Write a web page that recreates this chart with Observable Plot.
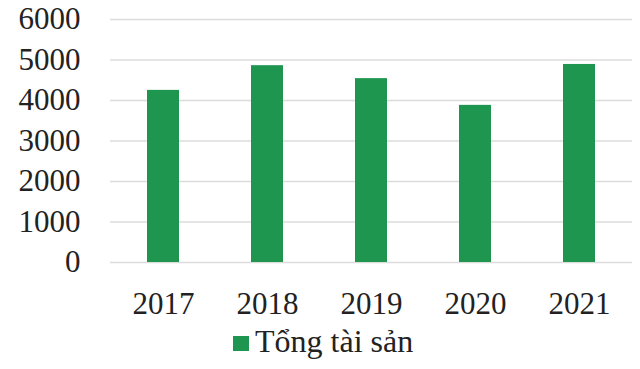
<!DOCTYPE html>
<html>
<head>
<meta charset="utf-8">
<script src="https://cdn.jsdelivr.net/npm/d3@7"></script>
<script src="https://cdn.jsdelivr.net/npm/@observablehq/plot@0.6"></script>
<style>
  html, body { margin: 0; padding: 0; background: #fff; }
  #wrap { position: relative; width: 640px; height: 369px; overflow: hidden; font-family: "Liberation Serif", "Times New Roman", serif; }
  #legend { position: absolute; left: 233px; top: 323px; display: flex; align-items: center; font-size: 32px; color: #222; line-height: 37px; }
  #legend .sw { width: 16px; height: 15px; background: #1e9650; margin-right: 6px; margin-top: 3px; }
</style>
</head>
<body>
<div id="wrap">
  <div id="chart"></div>
  <div id="legend"><span class="sw"></span><span>Tổng tài sản</span></div>
</div>
<script>
const years = ["2017", "2018", "2019", "2020", "2021"];
const totalAssets = [4250, 4860, 4540, 3880, 4890];
const yTicks = [0, 1000, 2000, 3000, 4000, 5000, 6000];
const seriesName = "Tổng tài sản";

const data = years.map((y, i) => ({year: y, value: totalAssets[i], series: seriesName}));

const chart = Plot.plot({
  width: 640,
  height: 325,
  marginTop: 19,
  marginBottom: 63,
  marginLeft: 110,
  marginRight: 8,
  style: {fontFamily: "'Liberation Serif', 'Times New Roman', serif", fontSize: "31px", color: "#222", background: "transparent"},
  x: {domain: years, paddingInner: 0.69, paddingOuter: 0.345, label: null},
  y: {domain: [0, 6000], ticks: yTicks, label: null},
  marks: [
    Plot.gridY(yTicks, {stroke: "#dcdcdc", strokeOpacity: 1, strokeWidth: 1.3}),
    Plot.barY(data, {x: "year", y: "value", fill: "#1e9650"}),
    Plot.axisY({ticks: yTicks, tickSize: 0, tickPadding: 30, fontSize: 31, tickFormat: d => String(d), label: null}),
    Plot.axisX({tickSize: 0, tickPadding: 29, fontSize: 31, label: null})
  ]
});
document.getElementById("chart").appendChild(chart);
</script>
</body>
</html>
